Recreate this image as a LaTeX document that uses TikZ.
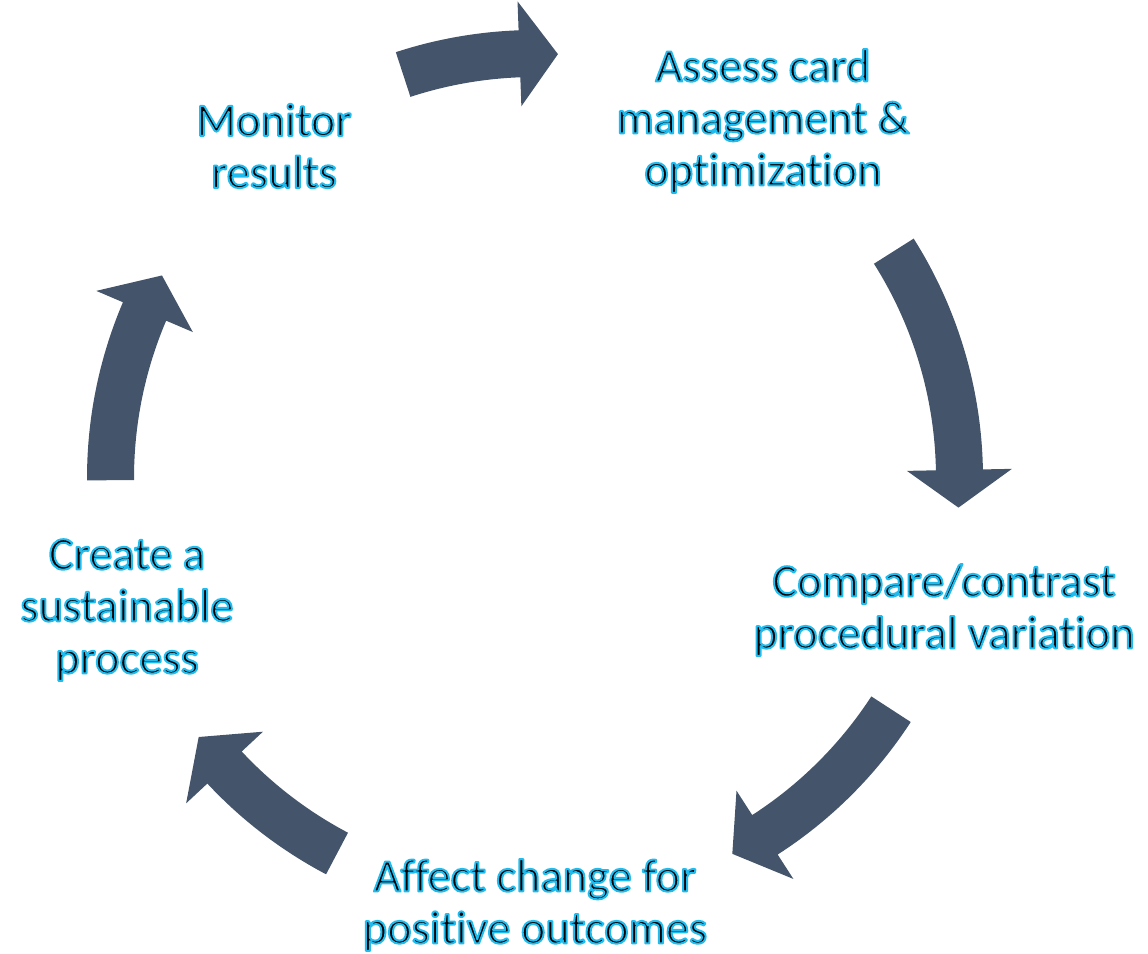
\documentclass[tikz,border=0pt]{standalone}
\usepackage{fontspec}
\setmainfont[Ligatures={NoCommon}]{Carlito}
\definecolor{arrowfill}{HTML}{44546A}
\newcommand{\gl}[1]{\special{pdf:literal direct 2 Tr 2.0 w 1 j 0.133 0.733 0.933 RG}#1\special{pdf:literal direct 0 Tr}}
\tikzset{
  cyc/.style={fill=arrowfill, draw=none},
  lbl/.style={align=center, font=\fontsize{46.5pt}{52pt}\selectfont, text=black, inner sep=0pt}
}
% #1 tail angle, #2 head-base angle, #3 tip angle
\newcommand{\cycarrow}[3]{%
  \fill[cyc] (#1:448pt) arc[start angle=#1, end angle=#2, radius=448pt]
    -- (#2:477pt) -- (#3:424.5pt) -- (#2:372pt) -- (#2:401pt)
    arc[start angle=#2, end angle=#1, radius=401pt] -- cycle;}
\begin{document}
\begin{tikzpicture}
\useasboundingbox (0pt,0pt) rectangle (1148pt,-953pt);
\begin{scope}[shift={(535pt,-478pt)}]
  \cycarrow{108.1}{92.1}{86.9}
  \cycarrow{32.3}{1.1}{-4.0}
  \cycarrow{-33.0}{-57.2}{-62.3}
  \cycarrow{242.2}{223.0}{217.6}
  \cycarrow{180.3}{156.9}{151.5}
\end{scope}
\node[lbl] (assess) at (763pt,-121pt) {\gl{Assess card}\\\gl{management \&}\\\gl{optimization}};
\node[lbl] (compare) at (944pt,-610pt) {\gl{Compare/contrast}\\\gl{procedural variation}};
\node[lbl] (affect) at (535pt,-905pt) {\gl{Affect change for}\\\gl{positive outcomes}};
\node[lbl] (create) at (127pt,-610pt) {\gl{Create a}\\\gl{sustainable}\\\gl{process}};
\node[lbl] (monitor) at (274pt,-146pt) {\gl{Monitor}\\\gl{results}};
\end{tikzpicture}
\end{document}
